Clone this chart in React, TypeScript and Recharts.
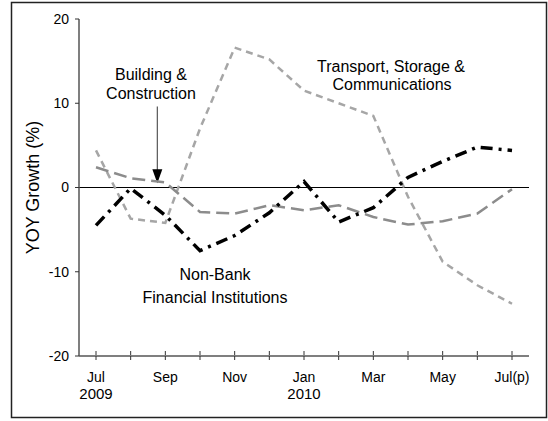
import { LineChart, Line, XAxis, YAxis, ReferenceLine } from "recharts";

const months = ["Jul", "Aug", "Sep", "Oct", "Nov", "Dec", "Jan", "Feb", "Mar", "Apr", "May", "Jun", "Jul(p)"];
const tickLabels = ["Jul", "", "Sep", "", "Nov", "", "Jan", "", "Mar", "", "May", "", "Jul(p)"];
const years = ["2009", "", "", "", "", "", "2010", "", "", "", "", "", ""];

const transport = [4.4, -3.7, -4.2, 7.0, 16.6, 15.2, 11.5, 10.0, 8.5, -1.1, -8.8, -11.6, -13.8];
const building = [2.4, 1.1, 0.6, -2.9, -3.1, -2.1, -2.7, -2.1, -3.5, -4.4, -4.0, -3.1, -0.2];
const nonBank = [-4.5, -0.1, -3.3, -7.5, -5.7, -3.0, 0.7, -4.1, -2.4, 1.2, 3.1, 4.8, 4.4];

const yTicks = [-20, -10, 0, 10, 20];

const data = months.map((m, i) => ({
  month: m,
  transport: transport[i],
  building: building[i],
  nonBank: nonBank[i],
}));

const FONT = "'Liberation Sans', Arial, sans-serif";

function MonthTick(props: any) {
  const { x, y, index } = props;
  return (
    <g>
      <line x1={x} x2={x} y1={y - 11} y2={y - 7} stroke="#333" />
      <text x={x} y={y} dy={20} textAnchor="middle" fontSize={14} fontFamily={FONT} fill="#000">
        {tickLabels[index]}
      </text>
      <text x={x} y={y} dy={37} textAnchor="middle" fontSize={15} fontFamily={FONT} fill="#000">
        {years[index]}
      </text>
    </g>
  );
}

// arrow for the Building & Construction note, nudged left of the Sep point
function Arrow(props: any) {
  const { x1, y1, y2 } = props;
  const x = x1 - 8;
  return (
    <g>
      <line x1={x} y1={y1} x2={x} y2={y2 - 12} stroke="#555" strokeWidth={1.2} />
      <polygon points={`${x - 5},${y2 - 14} ${x + 5},${y2 - 14} ${x},${y2}`} fill="#000" />
    </g>
  );
}

export default function App() {
  const axisStroke = { stroke: "#555", strokeWidth: 1.5 };
  return (
    <div style={{ position: "absolute", left: 0, top: 0, width: 548, height: 421, background: "#fff" }}>
      <LineChart width={548} height={421} data={data} margin={{ top: 19, right: 19, bottom: 0, left: 0 }}>
        <XAxis
          dataKey="month"
          interval={0}
          height={65}
          padding={{ left: 17, right: 17 }}
          axisLine={axisStroke}
          tickLine={{ stroke: "#333" }}
          tickSize={4}
          tick={<MonthTick />}
        />
        <XAxis xAxisId="top" dataKey="month" orientation="top" height={0} tick={false} tickLine={false} axisLine={axisStroke} />
        <YAxis
          domain={[-20, 20]}
          ticks={yTicks}
          width={79}
          axisLine={axisStroke}
          tickLine={{ stroke: "#333" }}
          tickSize={4}
          tickMargin={6}
          tick={{ fontSize: 14, fontFamily: FONT, fill: "#000" }}
          label={{ value: "YOY Growth (%)", angle: -90, position: "center", dx: -7, fontSize: 18, fontFamily: FONT, fill: "#000" }}
        />
        <YAxis yAxisId="right" orientation="right" width={0} domain={[-20, 20]} tick={false} tickLine={false} axisLine={axisStroke} />
        <ReferenceLine y={0} stroke="#000" strokeWidth={1} />
        <ReferenceLine
          segment={[{ x: "Sep", y: 9.6 }, { x: "Sep", y: 0.5 }]}
          shape={<Arrow />}
        />
        <Line
          dataKey="transport"
          stroke="#a6a6a6"
          strokeWidth={2.5}
          strokeDasharray="7 5"
          dot={false}
          isAnimationActive={false}
        />
        <Line
          dataKey="building"
          stroke="#8c8c8c"
          strokeWidth={2.5}
          strokeDasharray="13 6"
          dot={false}
          isAnimationActive={false}
        />
        <Line
          dataKey="nonBank"
          stroke="#000"
          strokeWidth={3.5}
          strokeDasharray="12 6 3 6"
          dot={false}
          isAnimationActive={false}
        />
      </LineChart>
      <svg width={548} height={421} style={{ position: "absolute", left: 0, top: 0, pointerEvents: "none" }}>
        <rect x={11.5} y={2.5} width={535} height={415} fill="none" stroke="#222" strokeWidth={1.5} />
        <g fontFamily={FONT} fontSize={16} fill="#000" textAnchor="middle">
          <text x={151} y={80}>Building &amp;</text>
          <text x={151} y={99}>Construction</text>
          <text x={391} y={72}>Transport, Storage &amp;</text>
          <text x={392} y={90}>Communications</text>
          <text x={215} y={280}>Non-Bank</text>
          <text x={215} y={303}>Financial Institutions</text>
        </g>
      </svg>
    </div>
  );
}
